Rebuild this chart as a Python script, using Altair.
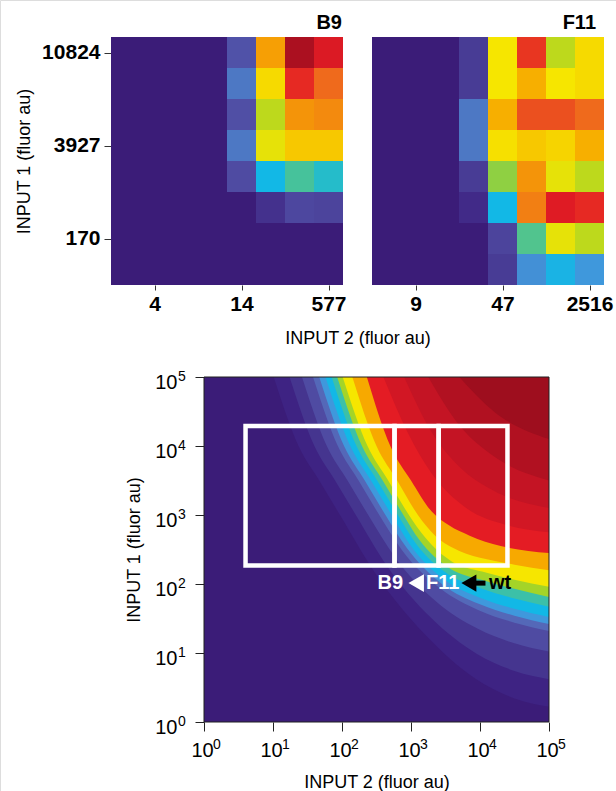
import json
import altair as alt
import pandas as pd

FONT = "Liberation Sans"
W, H = 616, 791

# ---------------- colour map (jet-like, indigo start) ----------------
cmap_stops = [0.00, 0.05, 0.10, 0.16, 0.24, 0.30, 0.36, 0.45, 0.55, 0.65, 0.75, 0.81, 0.87, 0.94, 1.00]
cmap_colors = ["#3b1c78", "#3e2383", "#45358f", "#4f4ba2", "#5468b8", "#3f98dc", "#12b8e6",
               "#3cc0a8", "#a4d428", "#f6e600", "#f7a900", "#ef6a1c", "#e41c24", "#c41424", "#9e0e1e"]

# ---------------- top heat maps (rows top -> bottom, columns left -> right) ----------------
panel_titles = ["B9", "F11"]
tick_columns = [1, 4, 7]
tick_rows = [0, 3, 6]
b9_xtick_labels = ["4", "14", "577"]
b9_ytick_labels = ["10824", "3927", "170"]
f11_xtick_labels = ["9", "47", "2516"]

b9_grid = [
    [0, 0, 0, 0, 0.18, 0.76, 0.98, 0.89],
    [0, 0, 0, 0, 0.26, 0.67, 0.86, 0.81],
    [0, 0, 0, 0, 0.17, 0.58, 0.77, 0.78],
    [0, 0, 0, 0, 0.26, 0.63, 0.70, 0.70],
    [0, 0, 0, 0, 0.16, 0.36, 0.46, 0.40],
    [0, 0, 0, 0, 0.00, 0.09, 0.15, 0.14],
    [0, 0, 0, 0, 0.00, 0.00, 0.00, 0.00],
    [0, 0, 0, 0, 0.00, 0.00, 0.00, 0.00],
]
f11_grid = [
    [0, 0, 0, 0.12, 0.65, 0.85, 0.58, 0.67],
    [0, 0, 0, 0.12, 0.65, 0.74, 0.65, 0.67],
    [0, 0, 0, 0.26, 0.74, 0.83, 0.83, 0.81],
    [0, 0, 0, 0.26, 0.66, 0.70, 0.68, 0.74],
    [0, 0, 0, 0.12, 0.53, 0.77, 0.63, 0.58],
    [0, 0, 0, 0.07, 0.36, 0.79, 0.88, 0.86],
    [0, 0, 0, 0.00, 0.14, 0.47, 0.63, 0.58],
    [0, 0, 0, 0.00, 0.12, 0.29, 0.35, 0.30],
]

axis_exponents = [0, 1, 2, 3, 4, 5]
contour_levels = [0.05, 0.10, 0.16, 0.24, 0.30, 0.36, 0.45, 0.55, 0.65, 0.75, 0.87, 0.91, 0.94, 0.97, 1.00]
contour_lx = [
    [1.01, 1.37, 1.67, 1.97, 2.48, 3.20, 3.93, 4.50, 5.0],
    [1.24, 1.60, 1.90, 2.20, 2.64, 3.29, 3.95, 4.50, 5.0],
    [1.42, 1.78, 2.08, 2.38, 2.76, 3.36, 3.97, 4.50, 5.0],
    [1.58, 1.94, 2.24, 2.54, 2.87, 3.43, 3.98, 4.50, 5.0],
    [1.67, 2.03, 2.33, 2.63, 2.94, 3.46, 3.99, 4.50, 5.0],
    [1.76, 2.12, 2.42, 2.72, 3.00, 3.50, 4.00, 4.50, 5.0],
    [1.85, 2.21, 2.51, 2.81, 3.06, 3.54, 4.01, 4.50, 5.0],
    [1.93, 2.29, 2.59, 2.89, 3.12, 3.57, 4.02, 4.50, 5.0],
    [2.01, 2.37, 2.67, 2.97, 3.20, 3.60, 4.03, 4.50, 5.0],
    [2.15, 2.50, 2.80, 3.10, 3.35, 3.70, 4.10, 4.50, 5.0],
    [2.36, 2.70, 3.00, 3.30, 3.55, 3.85, 4.30, 4.70, 5.0],
    [2.60, 2.95, 3.30, 3.80, 4.40, 5.0],
    [2.90, 3.30, 3.70, 4.20, 5.0],
    [3.25, 3.70, 4.20, 5.0],
    [3.70, 4.20, 5.0],
]
contour_ly = [
    [5.0, 4.0, 3.5, 3.0, 2.16, 1.27, 0.63, 0.34, 0.22],
    [5.0, 4.0, 3.5, 3.0, 2.28, 1.51, 0.99, 0.74, 0.62],
    [5.0, 4.0, 3.5, 3.0, 2.40, 1.75, 1.35, 1.14, 1.02],
    [5.0, 4.0, 3.5, 3.0, 2.49, 1.93, 1.62, 1.44, 1.32],
    [5.0, 4.0, 3.5, 3.0, 2.52, 1.99, 1.71, 1.54, 1.42],
    [5.0, 4.0, 3.5, 3.0, 2.55, 2.05, 1.80, 1.64, 1.52],
    [5.0, 4.0, 3.5, 3.0, 2.60, 2.14, 1.94, 1.79, 1.67],
    [5.0, 4.0, 3.5, 3.0, 2.64, 2.22, 2.06, 1.93, 1.81],
    [5.0, 4.0, 3.5, 3.0, 2.68, 2.32, 2.18, 2.06, 1.96],
    [5.0, 4.0, 3.5, 3.0, 2.70, 2.48, 2.36, 2.28, 2.20],
    [5.0, 4.0, 3.5, 3.05, 2.85, 2.70, 2.55, 2.48, 2.45],
    [5.0, 4.2, 3.6, 3.1, 2.85, 2.75],
    [5.0, 4.2, 3.7, 3.35, 3.10],
    [5.0, 4.3, 3.85, 3.50],
    [5.0, 4.5, 4.10],
]

# white boxes (input ranges) and annotations
box_edges_x = [4, 577, 2516, 25000]
box_edges_y = [185, 19500]
ann_y = 103
white_labels = ["B9", "F11"]
white_labels_x = [500, 2880]
black_labels = ["wt"]
black_labels_x = [19500]
white_arrow_x = [1190]
black_arrow_head_x = [6900]
black_arrow_tail_x = [7600, 12000]

# ---------------- helpers ----------------
CS = alt.Scale(domain=cmap_stops, range=cmap_colors, interpolate="rgb")


def grid_df(grid):
    rows = []
    for r, row in enumerate(grid):
        for c, v in enumerate(row):
            rows.append({"c": c, "c2": c + 1, "r": r, "r2": r + 1, "v": v})
    return pd.DataFrame(rows)


def pick_expr(labels):
    return json.dumps(labels) + "[floor(datum.value / 3)]"


TOP_Y0, TOP_Y1 = 37, 285
tick_vals_x = [c + 0.5 for c in tick_columns]
tick_vals_y = [r + 0.5 for r in tick_rows]


def heat_panel(grid, x0, x1, xlabels, ylabels, title, title_dx, xtitle_center):
    xs = alt.Scale(domain=[0, 8], range=[x0, x1], nice=False, zero=False)
    ys = alt.Scale(domain=[0, 8], range=[TOP_Y0, TOP_Y1], nice=False, zero=False)
    xaxis_kw = dict(orient="bottom", offset=TOP_Y1 - H, values=tick_vals_x, labelExpr=pick_expr(xlabels),
                    domain=False, tickSize=5, tickColor="#333333", labelFontSize=21, labelFontWeight="bold",
                    labelColor="black", labelPadding=3, grid=False, labelFlush=False, labelOverlap=False)
    if xtitle_center is not None:
        xaxis_kw.update(title="INPUT 2 (fluor au)", titleX=xtitle_center, titleY=53, titleBaseline="middle",
                        titleFontSize=18, titleFontWeight="normal", titleColor="black")
    else:
        xaxis_kw.update(title=None)
    xaxis = alt.Axis(**xaxis_kw)
    if ylabels is not None:
        yaxis = alt.Axis(orient="left", offset=-x0, values=tick_vals_y, labelExpr=pick_expr(ylabels),
                         domain=False, tickSize=7, tickColor="#333333", labelFontSize=21, labelFontWeight="bold",
                         labelColor="black", labelPadding=4, grid=False, labelFlush=False, labelOverlap=False,
                         title="INPUT 1 (fluor au)", titleFontSize=18, titleFontWeight="normal",
                         titleColor="black", titlePadding=8)
    else:
        yaxis = None
    cells = alt.Chart(grid_df(grid)).mark_rect(strokeWidth=0).encode(
        x=alt.X("c:Q", scale=xs, axis=xaxis),
        x2="c2:Q",
        y=alt.Y("r:Q", scale=ys, axis=yaxis),
        y2="r2:Q",
        color=alt.Color("v:Q", scale=CS, legend=None),
    )
    ttl = alt.Chart(pd.DataFrame({"t": [title]})).mark_text(
        align="right", baseline="alphabetic", dx=title_dx, dy=-8, fontSize=20, fontWeight="bold",
        color="black", font=FONT
    ).encode(x=alt.datum(8), y=alt.datum(0), text="t:N")
    return alt.layer(cells, ttl)


B9_X = (111, 343)
F11_X = (372, 604)
b9 = heat_panel(b9_grid, B9_X[0], B9_X[1], b9_xtick_labels, b9_ytick_labels, panel_titles[0], -1,
                (B9_X[0] + F11_X[1]) / 2)
f11 = heat_panel(f11_grid, F11_X[0], F11_X[1], f11_xtick_labels, None, panel_titles[1], -8, None)

# ---------------- bottom panel ----------------
BX = alt.Scale(type="log", domain=[1, 1e5], range=[204, 549], nice=False)
BY = alt.Scale(type="log", domain=[1, 1e5], range=[722, 377], nice=False)
axis_vals = [10 ** e for e in axis_exponents]
AXB = alt.Axis(orient="bottom", offset=722 - H, values=axis_vals, labelExpr="'10'", tickSize=9,
               tickColor="#222222", domain=False, labelFontSize=20, labelColor="black", labelPadding=9,
               labelOffset=-2, labelFlush=False, grid=False, title="INPUT 2 (fluor au)", titleFontSize=18,
               titleFontWeight="normal", titleColor="black", titlePadding=13)
AYB = alt.Axis(orient="left", offset=-204, values=axis_vals, labelExpr="'10'", tickSize=9,
               tickColor="#222222", domain=False, labelFontSize=20, labelColor="black", labelPadding=18,
               labelOffset=5, labelFlush=False, grid=False, title="INPUT 1 (fluor au)", titleFontSize=18,
               titleFontWeight="normal", titleColor="black", titlePadding=11)


def bx(f):
    return alt.X(f, type="quantitative", scale=BX, axis=AXB)


def by(f):
    return alt.Y(f, type="quantitative", scale=BY, axis=AYB, stack=None)


lo, hi = 10 ** axis_exponents[0], 10 ** axis_exponents[-1]
frame_df = pd.DataFrame({"x": [lo], "x2": [hi], "y": [lo], "y2": [hi], "v": [0.0]})
background = alt.Chart(frame_df).mark_rect().encode(
    x=bx("x"), x2="x2", y=by("y"), y2="y2", color=alt.Color("v:Q", scale=CS, legend=None)
)

layers = [background]
for lev, lxs, lys in zip(contour_levels, contour_lx, contour_ly):
    dfc = pd.DataFrame({"x": [10 ** a for a in lxs], "y": [10 ** b for b in lys],
                        "top": [hi] * len(lxs), "v": [lev] * len(lxs)})
    layers.append(
        alt.Chart(dfc).mark_area(interpolate="monotone").encode(
            x=bx("x"), y=by("y"), y2="top", color=alt.Color("v:Q", scale=CS, legend=None)
        )
    )

box_df = pd.DataFrame({"x": box_edges_x[:-1], "x2": box_edges_x[1:],
                       "y": [box_edges_y[0]] * 3, "y2": [box_edges_y[1]] * 3})
boxes = alt.Chart(box_df).mark_rect(fill="transparent", stroke="white", strokeWidth=4.5).encode(
    x=bx("x"), x2="x2", y=by("y"), y2="y2"
)
frame = alt.Chart(frame_df).mark_rect(fill="transparent", stroke="#202020", strokeWidth=1).encode(
    x=bx("x"), x2="x2", y=by("y"), y2="y2"
)

# exponents of the tick labels (superscripts)
exp_txt = [str(e) for e in axis_exponents]
xexp = alt.Chart(pd.DataFrame({"x": axis_vals, "y": [lo] * len(axis_vals), "t": exp_txt})).mark_text(
    align="left", baseline="middle", dx=9, dy=23, fontSize=14, color="black", font=FONT
).encode(x=bx("x"), y=by("y"), text="t:N")
yexp = alt.Chart(pd.DataFrame({"x": [lo] * len(axis_vals), "y": axis_vals, "t": exp_txt})).mark_text(
    align="left", baseline="middle", dx=-26, dy=0, fontSize=14, color="black", font=FONT
).encode(x=bx("x"), y=by("y"), text="t:N")

wl = alt.Chart(pd.DataFrame({"t": white_labels, "x": white_labels_x, "y": [ann_y] * 2})).mark_text(
    color="white", fontSize=20, fontWeight="bold", font=FONT, align="center", baseline="middle"
).encode(x=bx("x"), y=by("y"), text="t:N")
bl = alt.Chart(pd.DataFrame({"t": black_labels, "x": black_labels_x, "y": [ann_y]})).mark_text(
    color="black", fontSize=20, fontWeight="bold", font=FONT, align="center", baseline="middle"
).encode(x=bx("x"), y=by("y"), text="t:N")
wtri = alt.Chart(pd.DataFrame({"x": white_arrow_x, "y": [ann_y]})).mark_point(
    shape="triangle-left", filled=True, color="white", opacity=1, size=320
).encode(x=bx("x"), y=by("y"))
btri = alt.Chart(pd.DataFrame({"x": black_arrow_head_x, "y": [ann_y]})).mark_point(
    shape="triangle-left", filled=True, color="black", opacity=1, size=300
).encode(x=bx("x"), y=by("y"))
bshaft = alt.Chart(pd.DataFrame({"x": [black_arrow_tail_x[0]], "x2": [black_arrow_tail_x[1]],
                                 "y": [ann_y]})).mark_rule(color="black", strokeWidth=5).encode(
    x=bx("x"), x2="x2", y=by("y")
)

bottom = alt.layer(*layers, boxes, frame, xexp, yexp, wl, bl, wtri, btri, bshaft)

chart = alt.layer(b9, f11, bottom).resolve_scale(x="independent", y="independent").properties(
    width=W, height=H, padding=0, autosize=alt.AutoSizeParams(type="none"), background="white"
).configure_view(stroke=None).configure(font=FONT)

chart.save("out.html", embed_options={"renderer": "svg", "actions": False})
